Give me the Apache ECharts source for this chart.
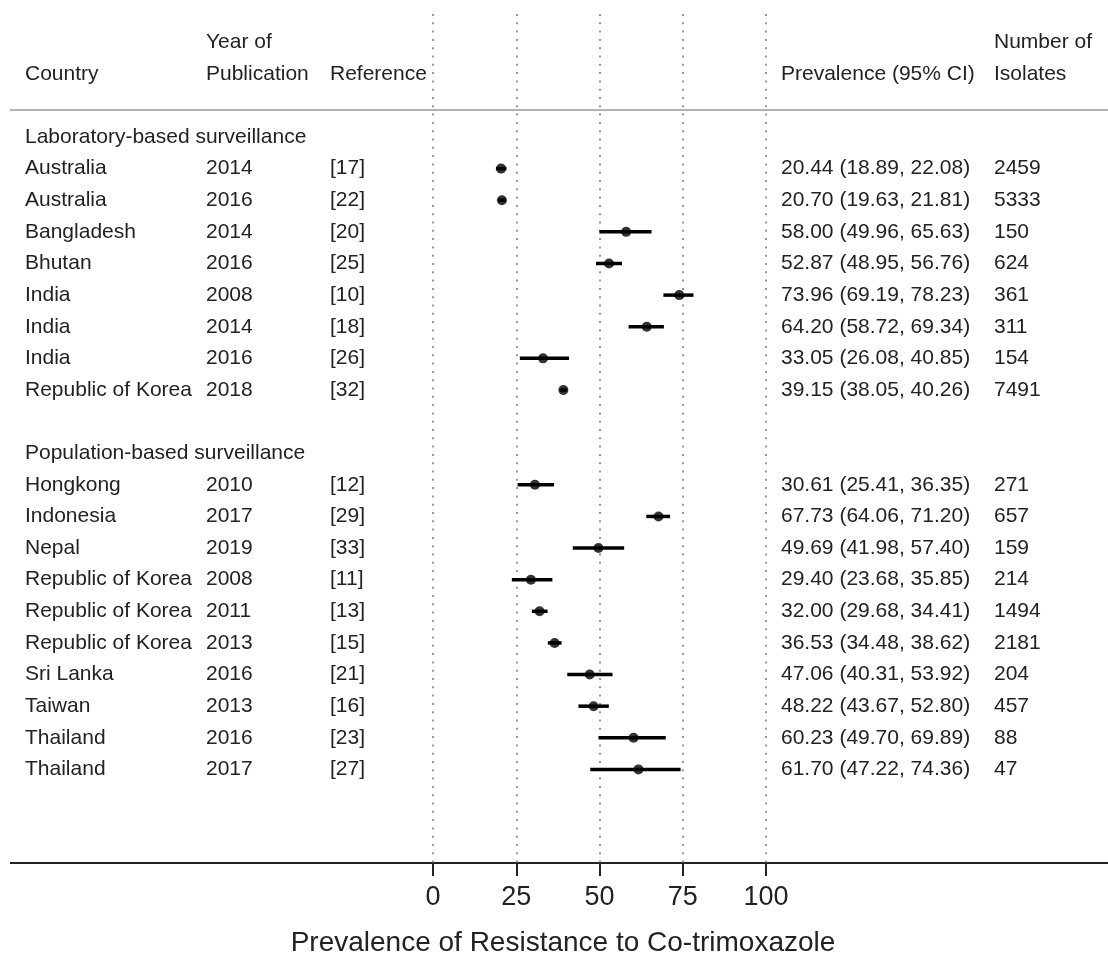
<!DOCTYPE html>
<html>
<head>
<meta charset="utf-8">
<script src="https://cdn.jsdelivr.net/npm/echarts@6/dist/echarts.min.js"></script>
<style>
  html, body { margin: 0; padding: 0; background: #fff; }
  #chart { width: 1108px; height: 956px; }
</style>
</head>
<body>
<div id="chart"></div>
<script>
// data
var countries = ['Australia', 'Australia', 'Bangladesh', 'Bhutan', 'India', 'India', 'India', 'Republic of Korea',
    'Hongkong', 'Indonesia', 'Nepal', 'Republic of Korea', 'Republic of Korea', 'Republic of Korea', 'Sri Lanka', 'Taiwan', 'Thailand', 'Thailand'];
var years = [2014, 2016, 2014, 2016, 2008, 2014, 2016, 2018, 2010, 2017, 2019, 2008, 2011, 2013, 2016, 2013, 2016, 2017];
var refs = ['[17]', '[22]', '[20]', '[25]', '[10]', '[18]', '[26]', '[32]', '[12]', '[29]', '[33]', '[11]', '[13]', '[15]', '[21]', '[16]', '[23]', '[27]'];
var prevalence = [20.44, 20.70, 58.00, 52.87, 73.96, 64.20, 33.05, 39.15, 30.61, 67.73, 49.69, 29.40, 32.00, 36.53, 47.06, 48.22, 60.23, 61.70];
var lower = [18.89, 19.63, 49.96, 48.95, 69.19, 58.72, 26.08, 38.05, 25.41, 64.06, 41.98, 23.68, 29.68, 34.48, 40.31, 43.67, 49.70, 47.22];
var upper = [22.08, 21.81, 65.63, 56.76, 78.23, 69.34, 40.85, 40.26, 36.35, 71.20, 57.40, 35.85, 34.41, 38.62, 53.92, 52.80, 69.89, 74.36];
var isolates = [2459, 5333, 150, 624, 361, 311, 154, 7491, 271, 657, 159, 214, 1494, 2181, 204, 457, 88, 47];
var rowPos = [1, 2, 3, 4, 5, 6, 7, 8, 11, 12, 13, 14, 15, 16, 17, 18, 19, 20];
var groups = ['Laboratory-based surveillance', 'Population-based surveillance'];
var groupPos = [0, 10];

// column x positions (px)
var colX = { country: 25, year: 206, ref: 330, prev: 781, n: 994 };

var cells = [];
cells.push({ x: colX.year, row: -3, text: 'Year of' });
cells.push({ x: colX.n, row: -3, text: 'Number of' });
cells.push({ x: colX.country, row: -2, text: 'Country' });
cells.push({ x: colX.year, row: -2, text: 'Publication' });
cells.push({ x: colX.ref, row: -2, text: 'Reference' });
cells.push({ x: colX.prev, row: -2, text: 'Prevalence (95% CI)' });
cells.push({ x: colX.n, row: -2, text: 'Isolates' });
groups.forEach(function (g, i) {
    cells.push({ x: colX.country, row: groupPos[i], text: g });
});
countries.forEach(function (c, i) {
    cells.push({ x: colX.country, row: rowPos[i], text: c });
    cells.push({ x: colX.year, row: rowPos[i], text: String(years[i]) });
    cells.push({ x: colX.ref, row: rowPos[i], text: refs[i] });
    cells.push({ x: colX.prev, row: rowPos[i], text: prevalence[i].toFixed(2) + ' (' + lower[i].toFixed(2) + ', ' + upper[i].toFixed(2) + ')' });
    cells.push({ x: colX.n, row: rowPos[i], text: String(isolates[i]) });
});

var font = '"Liberation Sans", Arial, Helvetica, sans-serif';
var myChart = echarts.init(document.getElementById('chart'));

var option = {
    animation: false,
    grid: { left: 433, width: 333, top: 14, bottom: 93 },
    xAxis: {
        type: 'value',
        position: 'bottom',
        min: 0,
        max: 100,
        interval: 25,
        axisLine: { show: false, onZero: false },
        axisTick: { show: true, inside: false, length: 13, lineStyle: { color: '#222', width: 2 } },
        axisLabel: { fontFamily: font, fontSize: 27, color: '#222', margin: 21 },
        splitLine: { show: true, lineStyle: { color: '#777', width: 1.5, type: [2, 6.3] } }
    },
    yAxis: {
        type: 'value',
        inverse: true,
        min: -3.89,
        max: 22.96,
        show: false
    },
    graphic: [
        { type: 'line', shape: { x1: 10, y1: 110, x2: 1108, y2: 110 }, style: { stroke: '#999', lineWidth: 1.5 } },
        { type: 'line', shape: { x1: 10, y1: 863, x2: 1108, y2: 863 }, style: { stroke: '#222', lineWidth: 2 } },
        {
            type: 'text', x: 563, y: 943,
            style: { text: 'Prevalence of Resistance to Co-trimoxazole', fontFamily: font, fontSize: 28, fill: '#222', textAlign: 'center', textVerticalAlign: 'middle' }
        }
    ],
    series: [
        {
            type: 'custom',
            name: 'ci',
            renderItem: function (params, api) {
                var p1 = api.coord([api.value(0), api.value(2)]);
                var p2 = api.coord([api.value(1), api.value(2)]);
                return {
                    type: 'line',
                    shape: { x1: p1[0], y1: p1[1], x2: p2[0], y2: p2[1] },
                    style: { stroke: '#000', lineWidth: 3.5 }
                };
            },
            encode: { x: [0, 1], y: 2 },
            data: lower.map(function (l, i) { return [l, upper[i], rowPos[i]]; }),
            z: 2
        },
        {
            type: 'scatter',
            symbol: 'circle',
            symbolSize: 10,
            itemStyle: { color: '#000' },
            data: prevalence.map(function (p, i) { return [p, rowPos[i]]; }),
            z: 3
        },
        {
            type: 'custom',
            name: 'table',
            renderItem: function (params, api) {
                var c = cells[params.dataIndex];
                var y = api.coord([0, c.row])[1];
                return {
                    type: 'text',
                    style: { x: c.x, y: y, text: c.text, fill: '#222', fontFamily: font, fontSize: 21, verticalAlign: 'middle', align: 'left' }
                };
            },
            data: cells.map(function (c) { return [0, c.row]; }),
            silent: true
        }
    ]
};
myChart.setOption(option);
</script>
</body>
</html>
